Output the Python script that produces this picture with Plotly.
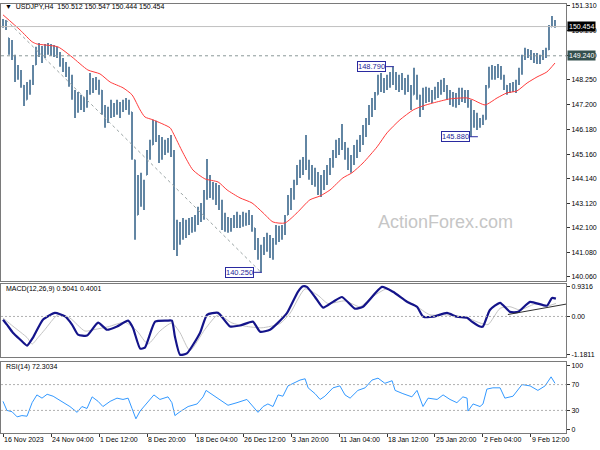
import plotly.graph_objects as go

# ---------------- data (each bar = two H4 bars) ----------------
highs = [
    150.77, 150.73, 149.98, 149.90, 149.28, 148.86, 148.65, 148.03, 148.15, 148.24,
    148.86, 149.61, 149.77, 149.65, 149.73, 149.77, 149.73, 149.69, 149.61, 149.40,
    149.15, 148.98, 148.78, 148.45, 147.82, 147.74, 147.62, 147.53, 147.82, 148.53,
    148.32, 148.36, 148.24, 147.82, 147.20, 147.12, 147.41, 147.28, 147.41, 147.32,
    147.41, 147.49, 147.41, 146.91, 144.92, 144.29, 144.38, 144.09, 145.33, 145.75,
    146.58, 146.54, 145.95, 145.87, 145.75, 145.83, 145.95, 145.33, 142.43, 142.34,
    142.51, 142.43, 142.51, 142.55, 142.63, 142.97, 143.13, 143.67, 144.96, 144.29,
    144.00, 143.96, 143.88, 143.26, 142.72, 142.55, 142.51, 142.63, 142.76, 142.63,
    142.76, 142.72, 142.84, 142.63, 142.09, 141.68, 141.39, 141.72, 141.89, 141.80,
    141.68, 142.22, 142.18, 142.22, 142.63, 143.46, 143.75, 144.09, 144.71, 144.92,
    145.04, 145.95, 144.92, 144.71, 144.59, 144.42, 144.29, 144.50, 144.71, 145.00,
    145.33, 145.75, 145.83, 146.41, 145.66, 145.42, 145.12, 145.54, 145.75, 145.95,
    146.37, 146.66, 147.20, 147.49, 147.74, 148.45, 148.53, 148.32, 148.45, 148.57,
    148.79, 148.57, 148.45, 148.53, 148.32, 148.45, 148.03, 148.74, 148.45, 147.62,
    147.91, 147.95, 147.91, 147.82, 147.95, 148.15, 148.24, 148.32, 148.03, 147.82,
    147.74, 147.70, 147.91, 147.91, 147.82, 147.82, 147.41, 146.99, 146.87, 146.66,
    146.79, 148.03, 148.78, 148.86, 148.82, 148.90, 148.82, 148.45, 148.03, 148.11,
    148.15, 148.24, 148.74, 149.28, 149.57, 149.52, 149.48, 149.36, 149.36, 149.28,
    149.48, 149.57, 150.52, 150.89, 150.73,
]
lows = [
    150.40, 150.31, 149.28, 149.07, 148.15, 148.24, 147.91, 147.16, 147.41, 147.62,
    148.03, 148.86, 149.19, 148.94, 149.15, 149.28, 149.23, 149.19, 149.15, 148.78,
    148.57, 148.36, 147.95, 147.41, 146.66, 146.87, 146.99, 146.91, 147.08, 147.62,
    147.70, 147.82, 147.62, 146.79, 146.25, 146.45, 146.66, 146.70, 146.79, 146.66,
    146.91, 146.99, 146.79, 144.92, 141.60, 142.63, 142.97, 142.84, 144.29, 144.92,
    145.54, 145.66, 144.79, 144.92, 145.12, 145.21, 145.04, 141.18, 140.93, 141.39,
    141.60, 141.68, 141.80, 141.89, 141.93, 142.22, 142.34, 142.43, 143.26, 143.34,
    143.26, 143.05, 142.84, 142.01, 141.93, 141.89, 141.93, 142.09, 142.09, 142.09,
    142.14, 142.18, 142.22, 141.93, 141.18, 140.77, 140.25, 140.97, 141.10, 140.85,
    140.77, 141.39, 141.51, 141.60, 141.80, 142.63, 142.84, 143.26, 143.88, 144.17,
    144.29, 144.50, 144.09, 143.88, 143.80, 143.46, 143.38, 143.67, 143.88, 144.29,
    144.59, 145.00, 145.12, 145.33, 144.92, 144.50, 144.38, 144.71, 145.00, 145.25,
    145.54, 145.87, 146.37, 146.70, 146.99, 147.62, 147.74, 147.70, 147.82, 147.91,
    148.03, 147.82, 147.74, 147.82, 147.62, 147.74, 146.99, 147.62, 147.41, 146.70,
    146.99, 147.28, 147.32, 147.28, 147.41, 147.49, 147.62, 147.74, 147.41, 147.20,
    147.12, 147.08, 147.20, 147.32, 147.28, 147.08, 145.88, 146.25, 146.16, 146.25,
    146.37, 146.58, 147.91, 148.24, 148.24, 148.32, 148.24, 147.82, 147.62, 147.70,
    147.74, 147.70, 148.03, 148.45, 149.07, 149.15, 149.07, 148.94, 148.90, 148.90,
    149.07, 149.15, 149.48, 150.44, 150.40,
]
closes = [
    150.50, 150.35, 149.40, 149.20, 148.40, 148.60, 148.00, 147.40, 147.90, 148.10,
    148.80, 149.50, 149.30, 149.50, 149.40, 149.60, 149.35, 149.50, 149.25, 148.90,
    148.80, 148.50, 148.10, 147.60, 147.00, 147.40, 147.20, 147.50, 147.70, 148.20,
    148.00, 148.10, 147.80, 147.00, 146.60, 147.00, 146.90, 147.10, 147.00, 147.20,
    147.30, 147.10, 147.00, 145.20, 142.20, 143.80, 143.20, 143.90, 145.00, 145.50,
    146.20, 145.90, 145.20, 145.60, 145.40, 145.70, 145.20, 141.60, 142.10, 141.80,
    142.20, 141.90, 142.30, 142.10, 142.50, 142.80, 142.90, 143.40, 143.90, 143.60,
    143.80, 143.30, 143.10, 142.20, 142.40, 142.10, 142.40, 142.30, 142.60, 142.40,
    142.60, 142.40, 142.50, 142.10, 141.40, 141.00, 141.20, 141.50, 141.30, 141.00,
    141.50, 141.80, 141.90, 142.00, 142.50, 143.30, 143.50, 143.90, 144.50, 144.60,
    144.80, 144.70, 144.40, 144.10, 144.20, 143.70, 144.00, 144.30, 144.60, 144.90,
    145.20, 145.50, 145.50, 145.40, 145.10, 144.70, 145.00, 145.30, 145.60, 145.80,
    146.20, 146.50, 147.00, 147.30, 147.60, 148.20, 148.00, 148.20, 148.10, 148.40,
    148.30, 148.10, 148.30, 148.00, 148.10, 147.90, 147.30, 148.30, 147.60, 147.30,
    147.60, 147.50, 147.70, 147.50, 147.80, 148.00, 148.10, 147.90, 147.60, 147.40,
    147.50, 147.60, 147.70, 147.50, 147.70, 147.30, 146.50, 146.60, 146.40, 146.60,
    146.60, 147.90, 148.60, 148.40, 148.70, 148.50, 148.40, 148.00, 147.90, 147.80,
    148.00, 148.10, 148.60, 149.20, 149.30, 149.30, 149.20, 149.10, 149.10, 149.20,
    149.30, 149.50, 150.40, 150.60, 150.454,
]
first_open = 150.60

ma_x = [0, 5.7, 9.7, 11.3, 18.3, 23, 28.3, 32.3, 35.7, 40,
        43, 45.7, 47.3, 50, 55.7, 56.7, 60, 63.3, 67.3, 71.7,
        74.7, 79, 83, 86.7, 90, 94, 98, 102.3, 105.7, 109,
        113.3, 116.3, 120, 124.7, 128, 132.3, 136.7, 140, 143.3, 149,
        154.7, 156.7, 160.7, 164.7, 168, 171.3, 174.7, 178, 181.3, 184]
ma_y = [150.94, 150.31, 149.82, 149.73, 149.61, 149.19, 148.65, 148.49, 148.15, 147.91,
        147.62, 146.99, 146.70, 146.58, 146.25, 146.04, 145.21, 144.50, 144.13, 144.00,
        143.67, 143.34, 143.13, 142.72, 142.34, 142.30, 142.72, 143.26, 143.42, 143.67,
        144.17, 144.38, 144.79, 145.46, 146.04, 146.58, 146.99, 147.16, 147.28, 147.45,
        147.49, 147.41, 147.20, 147.49, 147.70, 147.78, 148.11, 148.36, 148.57, 148.94]

macd_x = [0, 1.3, 3.3, 5.7, 8, 10, 13.3, 17.3, 20.7, 23,
          25, 28, 31.7, 34.7, 38, 41.7, 43.3, 45.7, 47.3, 50.7,
          54.7, 56.3, 57.3, 59, 61.3, 65.7, 68, 71.7, 75.7, 79,
          83.3, 85.7, 89, 91.7, 94.7, 98.3, 100, 101.3, 104, 106.7,
          110, 113, 117.3, 120, 126.3, 130, 134.7, 138, 140, 143.3,
          148, 151.3, 154.7, 156.3, 159, 160, 162.3, 165.7, 169, 171.7,
          175.7, 181.3, 183, 184.3]
macd_y = [-0.10, -0.25, -0.50, -0.71, -0.90, -0.65, -0.10, 0.11, 0.00, -0.25,
          -0.56, -0.59, -0.19, -0.41, -0.31, -0.13, -0.35, -0.99, -0.96, -0.16,
          -0.13, -0.13, -0.62, -1.18, -1.14, -0.50, 0.05, 0.11, -0.31, -0.28,
          -0.16, -0.47, -0.41, -0.19, 0.11, 0.76, 0.93, 0.91, 0.60, 0.27,
          0.45, 0.60, 0.24, 0.30, 0.91, 0.76, 0.45, 0.30, 0.00, -0.01,
          0.11, -0.01, -0.04, -0.16, -0.31, -0.31, 0.20, 0.42, 0.14, 0.14,
          0.45, 0.33, 0.57, 0.55]

sig_x = [0, 3.3, 8, 9.7, 11.7, 14, 18.3, 22.3, 27.3, 30.7,
         35, 40.7, 44.7, 48.3, 52.3, 56.3, 59, 62.3, 67.3, 71.7,
         76.3, 80.7, 86.3, 92.3, 95.7, 100.7, 105, 108.3, 114, 119,
         122.3, 128, 132.3, 137.3, 142.3, 147.3, 154, 159, 161.7, 165.7,
         169, 172.3, 177.3, 181.7, 184.3]
sig_y = [-0.05, -0.30, -0.65, -0.85, -0.65, -0.40, 0.05, -0.05, -0.45, -0.40,
         -0.32, -0.18, -0.45, -0.85, -0.45, -0.20, -0.50, -1.05, -0.40, 0.05,
         -0.20, -0.30, -0.35, -0.22, 0.10, 0.85, 0.65, 0.40, 0.48, 0.30,
         0.55, 0.85, 0.60, 0.35, 0.05, 0.05, -0.02, -0.20, -0.25, 0.25,
         0.30, 0.20, 0.38, 0.33, 0.40]
macd_trend_x = [168.3, 187.7]
macd_trend_y = [0.06, 0.38]

rsi_x = [0, 1.3, 3, 4.7, 6.3, 8, 9.7, 11.3, 13, 14.7,
         16.7, 19.7, 22.3, 24.7, 26.3, 28, 29.7, 31.7, 33.3, 35.7,
         38, 40, 41.7, 43, 44.3, 45.7, 48, 50.3, 52.3, 55,
         56.3, 57.3, 59, 61.7, 64.7, 66.7, 67.7, 70, 73, 75,
         78, 81.3, 85, 86.7, 88.3, 90, 91.7, 93.3, 95, 98.3,
         99, 100.7, 101.7, 104, 105.7, 107.3, 110, 112.3, 114, 115.7,
         118.3, 120.7, 123, 125, 127.3, 129.7, 130.7, 133.3, 136.3, 138,
         140, 141.7, 144.7, 146.7, 149, 151.3, 153.3, 154.7, 155, 156.7,
         159, 160, 161.3, 163.3, 165.7, 167.3, 170, 173, 175.7, 178.3,
         180.7, 182.7, 184]
rsi_y = [44, 30, 28, 20, 22, 21, 42, 54, 49, 55,
         52, 44, 36, 27, 36, 33, 51, 44, 36, 44,
         49, 47, 49, 33, 17, 29, 42, 54, 47, 51,
         42, 22, 28, 36, 40, 51, 61, 54, 44, 38,
         42, 47, 27, 36, 40, 36, 54, 52, 68, 75,
         77, 79, 65, 56, 47, 52, 65, 68, 54, 49,
         61, 65, 77, 80, 72, 76, 61, 56, 51, 61,
         36, 49, 47, 54, 47, 42, 51, 49, 29, 40,
         36, 40, 63, 65, 65, 49, 52, 70, 68, 61,
         68, 82, 72]

price_ticks = [140.060, 141.080, 142.100, 143.120, 144.140, 145.160,
               146.180, 147.200, 148.250, 149.270, 150.290, 151.310]
macd_ticks = [-1.1811, 0.0, 0.9316]
macd_tick_text = ["-1.1811", "0.00", "0.9316"]
rsi_ticks = [0, 30, 70, 100]
date_tick_pos = [0, 16, 32, 48, 64, 80, 96, 112, 128, 144, 160, 176]
date_tick_text = ["16 Nov 2023", "24 Nov 04:00", "1 Dec 12:00", "8 Dec 20:00",
                  "18 Dec 04:00", "26 Dec 12:00", "3 Jan 20:00", "11 Jan 04:00",
                  "18 Jan 12:00", "25 Jan 20:00", "2 Feb 04:00", "9 Feb 12:00"]

last_price = 150.454
level_price = 149.240
pivot_values = [148.790, 145.880, 140.250]
pivot_box_right = [127.7, 155.7, 83.7]
pivot_link_end = [130.3, 158.3, 86.3]
trend_start_bar = 1
trend_end_bar = 86

header_text = "▼\u00a0 USDJPY,H4\u00a0\u00a0150.512 150.547 150.444 150.454"
macd_text = "MACD(12,26,9) 0.5041 0.4001"
rsi_text = "RSI(14) 72.3034"
watermark = "ActionForex.com"

# ---------------- derived ----------------
n = min(len(highs), len(lows), len(closes))
highs, lows, closes = highs[:n], lows[:n], closes[:n]
bar_idx = list(range(n))
opens = []
prev = first_open
for h, l, c in zip(highs, lows, closes):
    opens.append(min(max(prev, l), h))
    prev = c

def pair(a, b):
    m = min(len(a), len(b))
    return a[:m], b[:m]

ma_x, ma_y = pair(ma_x, ma_y)
macd_x, macd_y = pair(macd_x, macd_y)
sig_x, sig_y = pair(sig_x, sig_y)
rsi_x, rsi_y = pair(rsi_x, rsi_y)

# ---------------- layout geometry ----------------
FONT = "Liberation Sans"
W, H = 600, 450
ML, MR, MT, MB = 1, 34, 4, 17
PH = H - MT - MB

def dom(top_px, bot_px):
    return [(H - MB - bot_px) / PH, (H - MB - top_px) / PH]

BAR_C = "#52799a"
AXC = "#7a7a7a"
XR = [-0.67, 187.67]
TS = 7

fig = go.Figure()
fig.add_trace(go.Ohlc(
    x=bar_idx, open=opens, high=highs, low=lows, close=closes,
    increasing=dict(line=dict(color=BAR_C, width=1.8)),
    decreasing=dict(line=dict(color=BAR_C, width=1.8)),
    tickwidth=0.2, xaxis="x", yaxis="y", hoverinfo="skip", showlegend=False))
fig.add_trace(go.Scatter(x=ma_x, y=ma_y, mode="lines", line=dict(color="#ff3b3b", width=1, shape="spline", smoothing=0.6),
                         xaxis="x", yaxis="y", hoverinfo="skip", showlegend=False))
fig.add_trace(go.Scatter(x=sig_x, y=sig_y, mode="lines", line=dict(color="#c4c4c4", width=1, shape="spline", smoothing=0.6),
                         xaxis="x2", yaxis="y2", hoverinfo="skip", showlegend=False))
fig.add_trace(go.Scatter(x=macd_x, y=macd_y, mode="lines", line=dict(color="#14148a", width=2.2, shape="spline", smoothing=0.5),
                         xaxis="x2", yaxis="y2", hoverinfo="skip", showlegend=False))
fig.add_trace(go.Scatter(x=macd_trend_x, y=macd_trend_y, mode="lines", line=dict(color="#303030", width=1),
                         xaxis="x2", yaxis="y2", hoverinfo="skip", showlegend=False))
fig.add_trace(go.Scatter(x=rsi_x, y=rsi_y, mode="lines", line=dict(color="#3399ff", width=1),
                         xaxis="x3", yaxis="y3", hoverinfo="skip", showlegend=False))

tick_font = dict(family=FONT, size=TS, color="#000000")
xbase = dict(range=XR, showline=True, mirror=True, linecolor=AXC, linewidth=1,
             showgrid=False, zeroline=False, fixedrange=True, automargin=False)
ybase = dict(side="right", showline=True, mirror=True, linecolor=AXC, linewidth=1,
             showgrid=False, zeroline=False, ticks="outside", ticklen=3, tickcolor="#333333",
             tickfont=tick_font, fixedrange=True, automargin=False)

fig.update_layout(
    width=W, height=H, margin=dict(l=ML, r=MR, t=MT, b=MB, autoexpand=False),
    paper_bgcolor="#ffffff", plot_bgcolor="#ffffff", showlegend=False,
    font=dict(family=FONT, size=TS, color="#000000"),
    xaxis=dict(**xbase, anchor="y", showticklabels=False, ticks="", rangeslider=dict(visible=False)),
    xaxis2=dict(**xbase, anchor="y2", matches="x", showticklabels=False, ticks=""),
    xaxis3=dict(**xbase, anchor="y3", matches="x", tickvals=date_tick_pos, ticktext=date_tick_text,
                ticks="outside", ticklen=3, tickcolor="#333333", tickfont=tick_font,
                ticklabelposition="outside right", tickangle=0),
    yaxis=dict(**ybase, anchor="x", domain=dom(4, 281), range=[139.89, 151.39],
               tickvals=price_ticks, ticktext=[f"{v:.3f}" for v in price_ticks]),
    yaxis2=dict(**ybase, anchor="x2", domain=dom(284, 357), range=[-1.25, 1.0],
                tickvals=macd_ticks, ticktext=macd_tick_text),
    yaxis3=dict(**ybase, anchor="x3", domain=dom(362, 433), range=[-5, 105],
                tickvals=rsi_ticks, ticktext=[str(v) for v in rsi_ticks]),
)

shapes = [
    dict(type="line", xref="paper", yref="y", x0=0, x1=1, y0=last_price, y1=last_price,
         line=dict(color="#c0c0c0", width=1)),
    dict(type="line", xref="paper", yref="y", x0=0, x1=1, y0=level_price, y1=level_price,
         line=dict(color="#8a9898", width=1, dash="3px,3px")),
    dict(type="line", xref="x", yref="y", x0=trend_start_bar, y0=highs[trend_start_bar],
         x1=trend_end_bar, y1=lows[trend_end_bar], line=dict(color="#9aa4a4", width=1, dash="3px,3px")),
    dict(type="line", xref="paper", yref="y2", x0=0, x1=1, y0=0, y1=0,
         line=dict(color="#b0b0b0", width=1, dash="2px,2px")),
    dict(type="line", xref="paper", yref="y3", x0=0, x1=1, y0=70, y1=70,
         line=dict(color="#b0b0b0", width=1, dash="2px,2px")),
    dict(type="line", xref="paper", yref="y3", x0=0, x1=1, y0=30, y1=30,
         line=dict(color="#b0b0b0", width=1, dash="2px,2px")),
]
for v, bx, ex in zip(pivot_values, pivot_box_right, pivot_link_end):
    shapes.append(dict(type="line", xref="x", yref="y", x0=bx, x1=ex, y0=v, y1=v,
                       line=dict(color="#2a2aa0", width=1)))
fig.update_layout(shapes=shapes)

ann = []
ann.append(dict(text=header_text, xref="paper", yref="paper", x=0.004, y=(H - MB - 7) / PH,
                xanchor="left", yanchor="middle", showarrow=False,
                font=dict(family=FONT, size=TS, color="#000000")))
ann.append(dict(text=macd_text, xref="paper", yref="paper", x=0.006, y=(H - MB - 289) / PH,
                xanchor="left", yanchor="middle", showarrow=False,
                font=dict(family=FONT, size=TS, color="#000000")))
ann.append(dict(text=rsi_text, xref="paper", yref="paper", x=0.006, y=(H - MB - 367) / PH,
                xanchor="left", yanchor="middle", showarrow=False,
                font=dict(family=FONT, size=TS, color="#000000")))
ann.append(dict(text=watermark, xref="x", yref="y", x=147.6, y=142.34,
                xanchor="center", yanchor="middle", showarrow=False,
                font=dict(family=FONT, size=18, color="#c6c6c6")))
for v, bx in zip(pivot_values, pivot_box_right):
    ann.append(dict(text=f"{v:.3f}", xref="x", yref="y", x=bx, y=v, xanchor="right", yanchor="middle",
                    showarrow=False, bgcolor="#ffffff", bordercolor="#2a2aa0", borderwidth=1, borderpad=0,
                    font=dict(family=FONT, size=TS + 0.5, color="#1e1e96")))
ann.append(dict(text=f"{last_price:.3f}", xref="paper", yref="y", x=1.001, y=last_price,
                xanchor="left", yanchor="middle", showarrow=False, bgcolor="#000000",
                borderpad=1, font=dict(family=FONT, size=TS, color="#ffffff")))
ann.append(dict(text=f"{level_price:.3f}", xref="paper", yref="y", x=1.001, y=level_price,
                xanchor="left", yanchor="middle", showarrow=False, bgcolor="#34504e",
                borderpad=1, font=dict(family=FONT, size=TS, color="#ffffff")))
fig.update_layout(annotations=ann)

fig.write_html("out.html", config={"displayModeBar": False},
               post_script="document.body.style.margin='0px';document.body.style.padding='0px';")
